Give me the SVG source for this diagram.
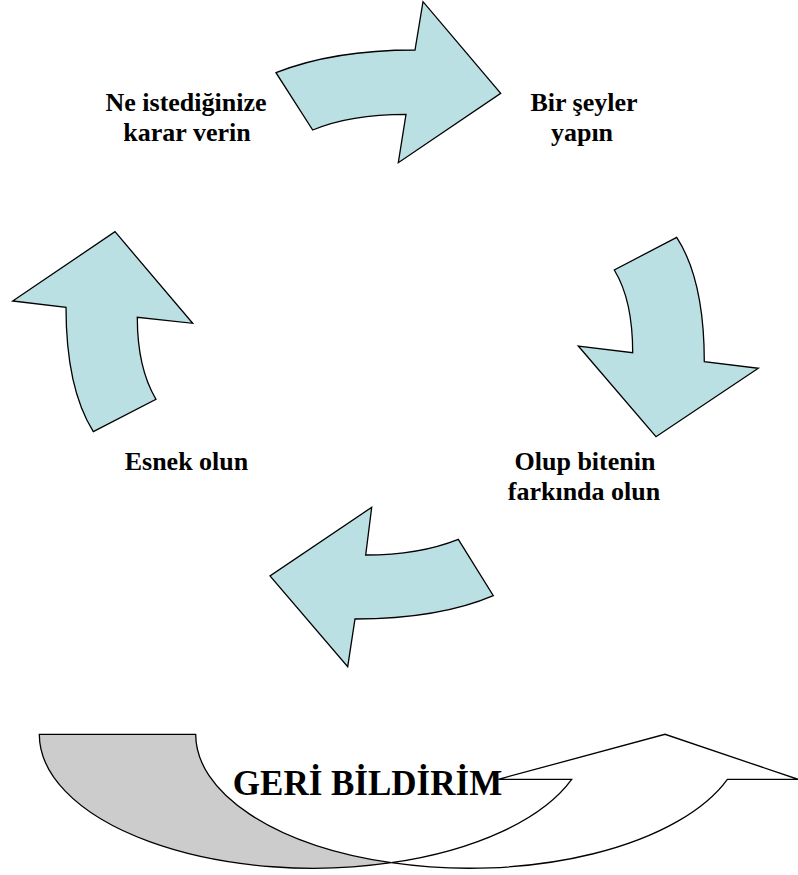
<svg xmlns="http://www.w3.org/2000/svg" width="798" height="875" viewBox="0 0 798 875">
  <style>
    .cyc { fill: #bbe0e3; stroke: #000; stroke-width: 1.3; stroke-linejoin: miter; }
    .back { fill: #cccccc; stroke: #000; stroke-width: 1.3; }
    .front { fill: #ffffff; stroke: #000; stroke-width: 1.3; }
    .lbl { font-family: "Liberation Serif", "Times New Roman", serif; font-weight: bold; font-size: 26px; fill: #000; text-anchor: middle; }
    .big { font-family: "Liberation Serif", "Times New Roman", serif; font-weight: bold; font-size: 35px; fill: #000; text-anchor: middle; }
  </style>
  <rect width="798" height="875" fill="#ffffff"/>

  <!-- cycle of curved arrows -->
  <g id="connectors">
    <path id="arrow-top" class="cyc" d="M 276,72.7 Q 333,50 415,50 L 423,1.7 L 500.7,93.3 L 398.3,162.7 L 406,114.3 Q 350,114.3 312.7,130 Z"/>
    <path id="arrow-right" class="cyc" d="M 676.7,237.3 L 614.3,270 Q 632.7,300 632.7,352.7 L 578.3,346 L 656,436.7 L 758.3,368.3 L 704.3,361.7 Q 704.3,280 676.7,237.3 Z"/>
    <path id="arrow-bottom" class="cyc" d="M 458.3,539.3 L 493.3,595.7 Q 439,619 355,619 L 347.7,666.7 L 270,576 L 371.7,507.3 L 365.7,555 Q 419,555 458.3,539.3 Z"/>
    <path id="arrow-left" class="cyc" d="M 93.3,431.7 L 156,399.3 Q 137.3,368 137.3,317.3 L 192.7,323.3 L 115,231.7 L 12.7,301 L 66,307.3 Q 66,388 93.3,431.7 Z"/>
  </g>

  <!-- step labels -->
  <g id="node-decide">
    <text class="lbl" x="186" y="111">Ne istediğinize</text>
    <text class="lbl" x="187" y="141">karar verin</text>
  </g>
  <g id="node-act">
    <text class="lbl" x="584" y="111">Bir şeyler</text>
    <text class="lbl" x="582" y="141">yapın</text>
  </g>
  <g id="node-notice">
    <text class="lbl" x="585" y="470">Olup bitenin</text>
    <text class="lbl" x="584" y="500">farkında olun</text>
  </g>
  <g id="node-flex">
    <text class="lbl" x="186.5" y="470">Esnek olun</text>
  </g>

  <!-- feedback: curved up arrow -->
  <g id="node-feedback">
    <path class="back" d="M 39.3,734.3 L 195.7,734.3 A 274 134 0 0 0 391.3,862.7 A 274 134 0 0 1 39.3,734.3 Z"/>
    <path class="front" d="M 391.3,862.7 A 274 134 0 0 0 727.4,779.3 L 798,779.3 L 665,734.3 L 498.3,779.3 L 571.7,779.3 A 274 134 0 0 1 391.3,862.7 Z"/>
    <text class="big" x="367.5" y="795">GERİ BİLDİRİM</text>
  </g>
</svg>
